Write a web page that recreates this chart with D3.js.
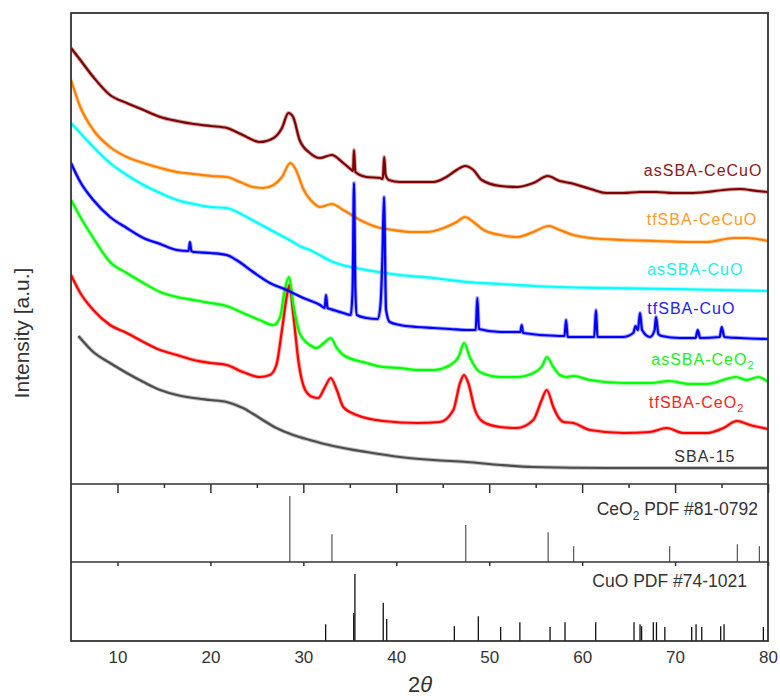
<!DOCTYPE html>
<html>
<head>
<meta charset="utf-8">
<script src="https://cdn.jsdelivr.net/npm/d3@7"></script>
<style>
  body { margin: 0; background: #fff; }
  svg { display: block; }
  text { font-family: "Liberation Sans", Arial, sans-serif; }
</style>
</head>
<body>
<svg id="chart" width="780" height="696"></svg>
<script>
// ---------------- DATA ----------------
const seriesNames = ["asSBA-CeCuO", "tfSBA-CeCuO", "asSBA-CuO", "tfSBA-CuO", "asSBA-CeO2", "tfSBA-CeO2", "SBA-15"];

// [2θ (deg), intensity (a.u., offset pattern)]
const asSBA_CeCuO = [[5.0,436],[6.0,424],[7.4,407],[9.2,389],[11.0,381],[12.8,374],[14.6,367],[16.4,363],[18.2,360],[20.0,358],[21.8,356],[22.8,352],[23.9,347],[25.3,342],[26.8,346],[27.7,356],[28.4,371],[28.9,367],[29.6,344],[30.7,331],[31.8,326],[33.05,329],[34.3,321],[35.2,314],[35.35,313],[35.45,334],[35.6,312],[36.8,307],[38.25,306],[38.55,305],[38.7,327],[38.85,309],[39.2,304],[40.4,302],[42.2,302],[44.0,302],[45.4,307],[46.5,314],[47.4,318],[48.3,314],[49.2,304],[51.2,298],[53.0,297],[54.75,301],[56.3,308],[57.6,303],[58.7,301],[60.9,295],[62.6,291],[64.4,291],[66.2,292],[68.0,292],[69.8,291],[71.6,291],[73.4,292],[75.2,294],[77.0,295],[78.8,293],[80,292]];

const tfSBA_CeCuO = [[5.0,404],[6.0,377],[7.4,354],[9.2,337],[11.0,327],[12.8,321],[14.6,316],[16.4,312],[18.2,310],[20.0,308],[21.75,307],[23.2,302],[24.6,297],[25.7,296],[26.8,299],[27.7,307],[28.6,321],[29.1,316],[30.0,295],[31.1,281],[31.8,277],[33.05,280],[34.3,274],[36.1,264],[37.9,257],[39.7,254],[41.5,252],[43.3,252],[45.1,256],[46.5,262],[47.4,267],[48.3,262],[49.4,254],[51.2,249],[53.0,247],[54.75,252],[56.4,258],[57.6,254],[59.05,249],[60.85,246],[64.4,244],[68.0,243],[71.6,242],[73.4,242],[76.3,246],[77.7,246],[80,243]];

const asSBA_CuO = [[5.0,361],[6.0,351],[7.4,337],[9.2,321],[11.0,309],[12.8,299],[14.6,291],[16.4,284],[18.2,280],[20.0,277],[21.75,276],[23.5,269],[25.3,260],[27.1,251],[28.9,242],[29.6,238],[30.7,234],[33.2,222],[36.8,214],[40.4,209],[44.0,206],[47.6,202],[51.2,200],[54.75,198],[57.6,197],[62.65,196],[69.8,195],[80,193]];

const tfSBA_CuO = [[5.0,321],[6.0,302],[7.4,284],[9.2,267],[11.0,256],[12.8,246],[14.6,240],[16.4,234],[17.65,233],[17.8,242],[17.95,233],[18.2,232],[20.0,231],[21.75,229],[22.8,224],[24.6,212],[26.4,201],[28.2,194],[30.0,186],[31.8,179],[32.3,176],[32.44,189],[32.6,176],[32.9,175],[34.3,171],[35.1,169],[35.3,194],[35.45,301],[35.6,194],[35.75,169],[36.8,166],[38.0,165],[38.3,179],[38.5,224],[38.68,287],[38.9,174],[39.3,162],[40.4,159],[42.2,157],[44.0,156],[45.8,155],[47.6,154],[48.55,154],[48.72,186],[48.9,155],[51.2,152],[53.35,152],[53.5,159],[53.65,151],[57.6,148],[58.1,148],[58.27,164],[58.45,147],[61.3,147],[61.49,174],[61.65,147],[64.4,147],[65.5,151],[65.75,158],[66.0,154],[66.23,171],[66.45,154],[67.3,147],[67.8,154],[67.95,167],[68.2,150],[68.56,148],[70.5,146],[72.2,146],[72.44,154],[72.7,146],[74.8,147],[75.02,157],[75.3,147],[77,146],[80,145]];

const asSBA_CeO2 = [[5.0,284],[6.0,267],[7.4,246],[9.2,222],[11.0,211],[12.8,201],[14.6,192],[16.4,187],[18.2,184],[20.0,181],[21.75,178],[23.5,171],[25.3,164],[26.8,159],[27.5,167],[28.0,194],[28.46,207],[28.9,181],[29.6,151],[30.7,139],[31.44,136],[32.2,141],[32.95,146],[33.6,136],[34.3,129],[36.8,121],[38.6,117],[40.4,116],[42.2,114],[44.0,114],[45.8,119],[46.7,127],[47.3,141],[47.9,127],[49.0,112],[51.2,107],[53.0,107],[54.75,111],[55.7,118],[56.2,127],[56.9,117],[57.6,109],[58.3,107],[59.05,108],[60.85,104],[64.4,101],[67.5,101],[69.3,103],[71.6,100],[73.4,100],[76.6,107],[77.7,104],[78.96,107],[80,102]];

const tfSBA_CeO2 = [[5.0,209],[6.0,191],[7.4,174],[9.2,159],[11.0,151],[12.8,142],[14.6,134],[16.4,129],[18.2,124],[20.0,121],[21.75,119],[23.5,112],[25.3,107],[26.4,109],[27.1,119],[27.7,154],[28.2,187],[28.5,199],[28.9,171],[29.5,121],[30.2,94],[31.0,87],[31.6,86],[32.33,97],[32.95,106],[33.6,94],[34.3,77],[35.74,69],[38.6,63],[42.2,61],[44.7,62],[46.14,74],[46.86,101],[47.29,109],[47.75,101],[48.47,74],[49.37,62],[51.16,57],[52.96,56],[54.75,64],[55.65,84],[56.19,94],[56.9,77],[57.5,66],[58.0,62],[59.05,61],[60.85,54],[64.43,51],[67.3,52],[69.1,56],[70.9,51],[73.4,51],[75.2,56],[76.64,63],[78.07,59],[80,55]];

const SBA_15 = [[5.8,148],[7.4,132],[9.2,121],[11.0,111],[12.8,102],[14.6,94],[16.4,89],[18.2,86],[20.0,84],[21.75,82],[23.5,76],[25.3,66],[27.1,56],[28.9,49],[30.7,44],[33.2,38],[36.8,32],[40.4,27],[44.0,24],[47.6,22],[51.2,19],[54.75,17],[62.65,16],[69.8,16],[80,16]];

// Reference patterns: [2θ, relative intensity]
const ceo2Pdf = [[28.55,100],[33.08,42],[47.48,56],[56.34,45],[59.09,24],[69.42,24],[76.70,27],[79.07,24]];
const cuoPdf = [[32.4,25],[35.42,42],[35.55,100],[38.6,57],[38.97,33],[46.25,22],[48.83,37],[51.23,21],[53.3,28],[56.55,21],[58.16,28],[61.46,28],[65.58,28],[66.23,25],[66.4,22],[67.66,28],[68.0,28],[68.9,21],[71.79,21],[72.26,25],[72.87,21],[74.91,22],[75.27,25],[79.5,21]];

const xMajorTicks = [10, 20, 30, 40, 50, 60, 70, 80];
const xMinorTicks = [15, 25, 35, 45, 55, 65, 75];

// ---------------- STYLE / LAYOUT ----------------
const seriesData = {
  "asSBA-CeCuO": asSBA_CeCuO, "tfSBA-CeCuO": tfSBA_CeCuO, "asSBA-CuO": asSBA_CuO,
  "tfSBA-CuO": tfSBA_CuO, "asSBA-CeO2": asSBA_CeO2, "tfSBA-CeO2": tfSBA_CeO2, "SBA-15": SBA_15
};
const colors = {
  "asSBA-CeCuO": "#7f0000", "tfSBA-CeCuO": "#ff8000", "asSBA-CuO": "#00ffff",
  "tfSBA-CuO": "#0000ff", "asSBA-CeO2": "#00ff00", "tfSBA-CeO2": "#ff0000", "SBA-15": "#4d4d4d"
};
const labelColors = {
  "asSBA-CeCuO": "#862020", "tfSBA-CeCuO": "#ff9a33", "asSBA-CuO": "#22eeee",
  "tfSBA-CuO": "#2222ee", "asSBA-CeO2": "#22ee22", "tfSBA-CeO2": "#ff2222", "SBA-15": "#333333"
};
const labelAnchor = {
  "asSBA-CeCuO": [79.4, 308], "tfSBA-CeCuO": [78.85, 259], "asSBA-CuO": [77.35, 209],
  "tfSBA-CuO": [76.5, 170], "asSBA-CeO2": [78.55, 119], "tfSBA-CeO2": [77.45, 76], "SBA-15": [76.5, 22]
};
const drawOrder = ["SBA-15", "tfSBA-CeO2", "asSBA-CeO2", "asSBA-CeCuO", "tfSBA-CeCuO", "asSBA-CuO", "tfSBA-CuO"];

const L = 71, R = 768;
const mainTop = 13, mainBot = 484, ceBot = 562, cuBot = 641;
const axisColor = "#333";

const svg = d3.select("#chart");

const x = d3.scaleLinear().domain([5, 80]).range([L, R]);
const yMain = d3.scaleLinear().domain([0, 471]).range([mainBot, mainTop]);
const yCe = d3.scaleLinear().domain([0, 118]).range([ceBot, mainBot]);
const yCu = d3.scaleLinear().domain([0, 118]).range([cuBot, ceBot]);

svg.append("defs").append("clipPath").attr("id", "clipMain")
  .append("rect").attr("x", L).attr("y", mainTop).attr("width", R - L).attr("height", mainBot - mainTop);

// ---------------- MAIN PATTERNS ----------------
const line = d3.line().x(d => x(d[0])).y(d => yMain(d[1])).curve(d3.curveMonotoneX);
const gLines = svg.append("g").attr("clip-path", "url(#clipMain)");
drawOrder.forEach(name => {
  const data = seriesData[name];
  gLines.append("path")
    .datum(data)
    .attr("d", line)
    .attr("fill", "none")
    .attr("stroke", colors[name])
    .attr("stroke-opacity", 0.35)
    .attr("stroke-width", 4)
    .attr("stroke-linejoin", "round");
  gLines.append("path")
    .datum(data)
    .attr("d", line)
    .attr("fill", "none")
    .attr("stroke", colors[name])
    .attr("stroke-width", 2.2)
    .attr("stroke-linejoin", "round");
});

seriesNames.forEach(name => {
  const [lx, ly] = labelAnchor[name];
  const t = svg.append("text")
    .attr("x", x(lx)).attr("y", yMain(ly))
    .attr("text-anchor", "end")
    .attr("font-size", 16)
    .attr("letter-spacing", 1)
    .attr("fill", labelColors[name]);
  if (name.endsWith("O2")) {
    t.append("tspan").text(name.slice(0, -1));
    t.append("tspan").text("2").attr("font-size", 11).attr("dy", 4);
  } else {
    t.text(name);
  }
});

// ---------------- PDF PANELS ----------------
svg.append("g").selectAll("line").data(ceo2Pdf).join("line")
  .attr("x1", d => x(d[0])).attr("x2", d => x(d[0]))
  .attr("y1", yCe(0)).attr("y2", d => yCe(d[1]))
  .attr("stroke", "#444").attr("stroke-width", 1.1);

svg.append("g").selectAll("line").data(cuoPdf).join("line")
  .attr("x1", d => x(d[0])).attr("x2", d => x(d[0]))
  .attr("y1", yCu(0)).attr("y2", d => yCu(d[1]))
  .attr("stroke", "#111").attr("stroke-width", 1.3);

const ceLab = svg.append("text").attr("x", 758).attr("y", 515).attr("text-anchor", "end")
  .attr("font-size", 17.5).attr("fill", "#333");
ceLab.append("tspan").text("CeO");
ceLab.append("tspan").text("2").attr("font-size", 12).attr("dy", 5);
ceLab.append("tspan").text(" PDF #81-0792").attr("dy", -5);

svg.append("text").attr("x", 747).attr("y", 587).attr("text-anchor", "end")
  .attr("font-size", 17.5).attr("fill", "#333").text("CuO PDF #74-1021");

// ---------------- AXES ----------------
const axMajor = d3.axisBottom(x).tickValues(xMajorTicks).tickSize(9).tickFormat("");
const axMinor = d3.axisBottom(x).tickValues(xMinorTicks).tickSize(4).tickFormat("");
[axMajor, axMinor].forEach(ax => {
  const g = svg.append("g").attr("transform", `translate(0,${mainBot})`).call(ax);
  g.select(".domain").remove();
  g.selectAll(".tick line").attr("stroke", axisColor).attr("stroke-width", 1.5);
});
const axCe = d3.axisBottom(x).tickValues(xMajorTicks).tickSize(4).tickFormat("");
const gCe = svg.append("g").attr("transform", `translate(0,${ceBot})`).call(axCe);
gCe.select(".domain").remove();
gCe.selectAll(".tick line").attr("stroke", axisColor).attr("stroke-width", 1.5);

const axBot = d3.axisBottom(x).tickValues(xMajorTicks).tickSize(0).tickPadding(10).tickFormat(d3.format("d"));
const gBot = svg.append("g").attr("transform", `translate(0,${cuBot})`).call(axBot);
gBot.select(".domain").remove();
gBot.selectAll(".tick text").attr("font-size", 17).attr("fill", "#333")
  .attr("font-family", "'Liberation Sans', Arial, sans-serif");

const frame = svg.append("g").attr("fill", "none").attr("stroke", axisColor);
frame.append("rect").attr("x", L).attr("y", mainTop).attr("width", R - L).attr("height", cuBot - mainTop)
  .attr("stroke-width", 1.8);
frame.append("line").attr("x1", L).attr("x2", R).attr("y1", mainBot).attr("y2", mainBot).attr("stroke-width", 1.6);
frame.append("line").attr("x1", L).attr("x2", R).attr("y1", ceBot).attr("y2", ceBot).attr("stroke-width", 1.6);

svg.append("text")
  .attr("transform", "translate(29,333) rotate(-90)")
  .attr("text-anchor", "middle").attr("font-size", 21).attr("fill", "#333")
  .text("Intensity [a.u.]");

const xt = svg.append("text").attr("x", 420).attr("y", 692).attr("text-anchor", "middle")
  .attr("font-size", 22).attr("fill", "#333");
xt.append("tspan").text("2");
xt.append("tspan").text("θ").attr("font-style", "italic");
</script>
</body>
</html>
